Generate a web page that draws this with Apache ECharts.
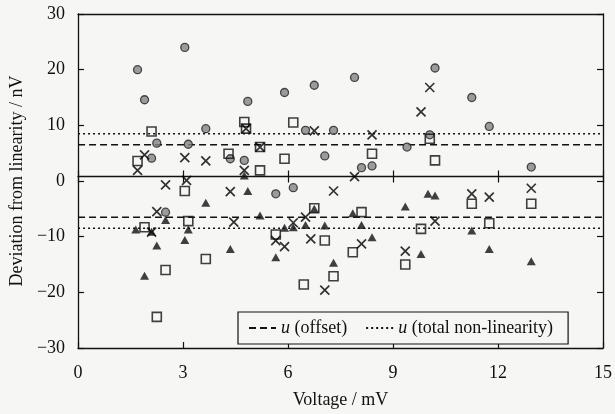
<!DOCTYPE html>
<html>
<head>
<meta charset="utf-8">
<script src="https://cdn.jsdelivr.net/npm/echarts@6/dist/echarts.min.js"></script>
<style>
html,body{margin:0;padding:0;background:#f6f6f4;}
#c{width:615px;height:414px;}
</style>
</head>
<body>
<div id="c"></div>
<script>
// ---- data (voltage in mV, deviation in nV) ----
var circlePts = [[1.7,20],[1.9,14.6],[2.1,4.1],[2.25,6.8],[2.5,-5.6],[3.05,24],[3.15,6.6],[3.65,9.4],
  [4.35,4.0],[4.75,3.7],[4.85,14.3],[5.65,-2.3],[5.9,15.9],[6.15,-1.2],[6.5,9.1],[6.75,17.2],
  [7.05,4.5],[7.3,9.1],[7.9,18.6],[8.1,2.4],[8.4,2.7],[9.4,6.1],[10.05,8.3],[10.2,20.3],
  [11.25,15.0],[11.75,9.8],[12.95,2.5]];
var crossPts = [[1.7,1.9],[1.9,4.7],[2.1,-9.2],[2.25,-5.5],[2.5,-0.7],[3.05,4.2],[3.1,0.1],[3.65,3.6],
  [4.35,-1.9],[4.45,-7.4],[4.75,1.9],[4.8,9.4],[5.2,6.1],[5.65,-10.7],[5.9,-11.8],[6.15,-7.5],
  [6.5,-6.5],[6.65,-10.4],[6.75,9.0],[7.05,-19.6],[7.3,-1.8],[7.9,0.8],[8.1,-11.3],[8.4,8.3],
  [9.35,-12.6],[9.8,12.4],[10.05,16.8],[10.2,-7.2],[11.25,-2.3],[11.75,-2.9],[12.95,-1.3]];
var squarePts = [[1.7,3.6],[1.9,-8.3],[2.1,8.9],[2.25,-24.4],[2.5,-16.0],[3.05,-1.8],[3.15,-7.2],
  [3.65,-14.0],[4.3,4.9],[4.75,10.6],[4.8,9.4],[5.2,6.1],[5.2,1.9],[5.65,-9.6],[5.9,4.0],
  [6.15,10.5],[6.45,-18.6],[6.75,-4.9],[7.05,-10.7],[7.3,-17.1],[7.85,-12.8],[8.1,-5.6],
  [8.4,4.9],[9.35,-15.0],[9.8,-8.6],[10.05,7.6],[10.2,3.7],[11.25,-4.1],[11.75,-7.6],[12.95,-4.1]];
var trianglePts = [[1.65,-8.7],[1.9,-17],[2.1,-9.1],[2.25,-11.6],[2.5,-7.0],[3.05,-10.6],[3.15,-8.7],
  [3.65,-3.9],[4.35,-12.2],[4.75,1.0],[4.85,-1.8],[5.2,-6.2],[5.65,-13.7],[5.9,-8.4],[6.15,-8.3],
  [6.5,-7.9],[6.75,-5.0],[7.05,-8.0],[7.3,-14.7],[7.85,-5.8],[8.1,-7.9],[8.4,-10.1],[9.35,-4.6],
  [9.8,-13.1],[10.0,-2.3],[10.2,-2.6],[11.25,-8.9],[11.75,-12.2],[12.95,-14.4]];
var uOffset = 6.5;
var uTotal = 8.5;
var legendNames = ['u (offset)', 'u (total non-linearity)'];
var xRange = [0, 15];
var yRange = [-30, 30];
var xTicks = [0, 3, 6, 9, 12, 15];
var yTicks = [-30, -20, -10, 0, 10, 20, 30];

var FONT = 'Liberation Serif';
var FS = 18;
var chart = echarts.init(document.getElementById('c'), null, {renderer: 'canvas'});

function bandLine(v) {
  return [[xRange[0], v], [xRange[1], v], null, [xRange[0], -v], [xRange[1], -v]];
}
function minus(v){ return v < 0 ? '\u2212' + (-v) : String(v); }

var baseX = {
  type: 'value', min: xRange[0], max: xRange[1], interval: xTicks[1] - xTicks[0],
  splitLine: {show: false}
};

var option = {
  backgroundColor: '#f6f6f4',
  animation: false,
  grid: {left: 75, right: 11, top: 14, bottom: 57, containLabel: false},
  xAxis: [
    Object.assign({}, baseX, {
      position: 'bottom',
      axisLine: {show: true, onZero: false, lineStyle: {color: '#111', width: 1.3}},
      axisTick: {show: true, inside: true, length: 6, lineStyle: {color: '#111', width: 1.2}},
      axisLabel: {color: '#111', fontFamily: FONT, fontSize: FS, margin: 16},
      name: 'Voltage / mV', nameLocation: 'middle', nameGap: 43,
      nameTextStyle: {color: '#111', fontFamily: FONT, fontSize: FS}
    }),
    Object.assign({}, baseX, {
      position: 'top',
      axisLine: {show: true, onZero: false, lineStyle: {color: '#111', width: 1.3}},
      axisTick: {show: false}, axisLabel: {show: false}
    }),
    Object.assign({}, baseX, {
      position: 'bottom', offset: -171.5,
      axisLine: {show: true, onZero: false, lineStyle: {color: '#111', width: 1.3}},
      axisTick: {show: true, inside: true, length: 6, lineStyle: {color: '#111', width: 1.2}},
      axisLabel: {show: false}
    }),
    Object.assign({}, baseX, {
      position: 'bottom', offset: -171.5,
      axisLine: {show: false, onZero: false},
      axisTick: {show: true, inside: false, length: 6, lineStyle: {color: '#111', width: 1.2}},
      axisLabel: {show: false}
    })
  ],
  yAxis: [
    {
      type: 'value', position: 'left', min: yRange[0], max: yRange[1], interval: yTicks[1] - yTicks[0],
      splitLine: {show: false},
      axisLine: {show: true, onZero: false, lineStyle: {color: '#111', width: 1.3}},
      axisTick: {show: true, inside: true, length: 6, lineStyle: {color: '#111', width: 1.2}},
      axisLabel: {color: '#111', fontFamily: FONT, fontSize: FS, margin: 13, formatter: minus},
      name: 'Deviation from linearity / nV', nameLocation: 'middle', nameGap: 48, nameRotate: 90,
      nameTextStyle: {color: '#111', fontFamily: FONT, fontSize: FS}
    },
    {
      type: 'value', position: 'right', min: yRange[0], max: yRange[1], interval: yTicks[1] - yTicks[0],
      splitLine: {show: false},
      axisLine: {show: true, onZero: false, lineStyle: {color: '#111', width: 1.3}},
      axisTick: {show: true, inside: true, length: 6, lineStyle: {color: '#111', width: 1.2}},
      axisLabel: {show: false}
    }
  ],
  legend: {
    left: 238, top: 312,
    orient: 'horizontal',
    backgroundColor: '#f6f6f4',
    borderColor: '#111', borderWidth: 1.2, borderRadius: 0,
    padding: [7, 15, 7, 10],
    itemWidth: 27, itemHeight: 10, itemGap: 18,
    itemStyle: {opacity: 0},
    data: legendNames,
    formatter: function (name) {
      return '{i|u}' + name.slice(1);
    },
    textStyle: {
      color: '#111', fontFamily: FONT, fontSize: FS,
      rich: {i: {fontStyle: 'italic', fontFamily: FONT, fontSize: FS, color: '#111'}}
    }
  },
  series: [
    {
      name: legendNames[0], type: 'line', data: bandLine(uOffset), symbol: 'none', connectNulls: false,
      itemStyle: {color: '#111'},
      lineStyle: {color: '#111', width: 1.4, type: [7, 4]}, silent: true, z: 1
    },
    {
      name: legendNames[1], type: 'line', data: bandLine(uTotal), symbol: 'none', connectNulls: false,
      itemStyle: {color: '#111'},
      lineStyle: {color: '#111', width: 1.6, type: [2, 3]}, silent: true, z: 1
    },
    {
      name: 'circles', type: 'scatter', data: circlePts, symbol: 'circle', symbolSize: 8,
      itemStyle: {color: '#858585', borderColor: '#222', borderWidth: 1.3}, z: 3
    },
    {
      name: 'squares', type: 'scatter', data: squarePts, symbol: 'rect', symbolSize: 9,
      itemStyle: {color: 'rgba(0,0,0,0)', borderColor: '#111', borderWidth: 1.6}, z: 3
    },
    {
      name: 'crosses', type: 'scatter', data: crossPts,
      symbol: 'path://M0,0L10,10M10,0L0,10', symbolSize: 9,
      itemStyle: {color: 'rgba(0,0,0,0)', borderColor: '#000', borderWidth: 1.7}, z: 4
    },
    {
      name: 'triangles', type: 'scatter', data: trianglePts, symbol: 'triangle', symbolSize: [9, 8],
      itemStyle: {color: '#111', borderColor: '#111', borderWidth: 0}, z: 4
    }
  ]
};
chart.setOption(option);
</script>
</body>
</html>
